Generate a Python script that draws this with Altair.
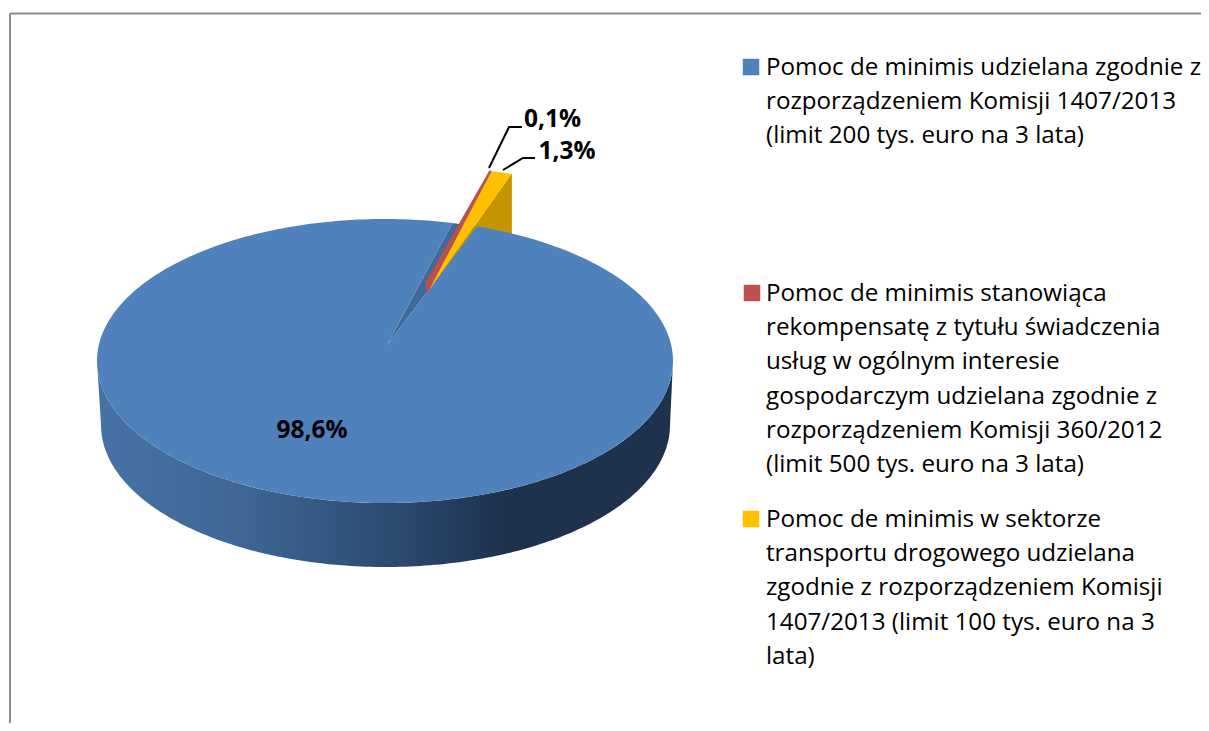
import numpy as np
import pandas as pd
import altair as alt

# ---- values ----
shares = [98.6, 0.1, 1.3]
share_labels = ["98,6%", "0,1%", "1,3%"]
colors = ["#4f81bd", "#c0504d", "#ffc000"]
legend_lines = [
    ["Pomoc de minimis udzielana zgodnie z",
     "rozporządzeniem Komisji 1407/2013",
     "(limit 200 tys. euro na 3 lata)"],
    ["Pomoc de minimis stanowiąca",
     "rekompensatę z tytułu świadczenia",
     "usług w ogólnym interesie",
     "gospodarczym udzielana zgodnie z",
     "rozporządzeniem Komisji 360/2012",
     "(limit 500 tys. euro na 3 lata)"],
    ["Pomoc de minimis w sektorze",
     "transportu drogowego udzielana",
     "zgodnie z rozporządzeniem Komisji",
     "1407/2013 (limit 100 tys. euro na 3",
     "lata)"],
]
legend_top = [68, 294, 520]
legend_step = 34.2
FONT = "Open Sans"

# ---- pie geometry (image pixels, used as scale domain) ----
CX, CY, RX, RY = 385, 361, 288, 142
BX, BY, BRX, BRY = 385.5, 425, 284.5, 142
APEX = (387, 345)
OFFSET_APEX = (40, -52)
OFFSET_RIM = (37, -52)
DEPTH = 60
START = 18.6

X = alt.X("x:Q", axis=None, scale=alt.Scale(domain=[8, 1201], nice=False, zero=False))
Y = alt.Y("y:Q", axis=None, scale=alt.Scale(domain=[723, 8], nice=False, zero=False))


def top_pt(deg):
    t = np.radians(deg)
    return CX + RX * np.sin(t), CY - RY * np.cos(t)


def bot_pt(deg):
    t = np.radians(deg)
    return BX + BRX * np.sin(t), BY - BRY * np.cos(t)


def poly(pts, fill, stroke=None, sw=0.0):
    df = pd.DataFrame(pts, columns=["x", "y"])
    df["i"] = range(len(df))
    kw = dict(interpolate="linear-closed", fill=fill, strokeWidth=sw)
    kw["stroke"] = stroke if stroke else "transparent"
    return alt.Chart(df).mark_line(**kw).encode(x=X, y=Y, order="i:Q")


def shift(p):
    return (p[0] + OFFSET_RIM[0], p[1] + OFFSET_RIM[1])


# slice angle bounds from the values
a_blue_end = START + shares[0] * 3.6
a_red_end = a_blue_end + shares[1] * 3.6
a_yel_end = a_red_end + shares[2] * 3.6

blue_arc = [top_pt(a) for a in np.linspace(START, a_blue_end, 361)]
blue_top = poly([APEX] + blue_arc, colors[0])

notch = poly([APEX, top_pt(a_blue_end), top_pt(START)], "#41689a")

side_angles = np.linspace(270, 90, 181)
side_pts = [top_pt(a) for a in side_angles] + [bot_pt(a) for a in side_angles[::-1]]
blue_side = poly(
    side_pts,
    alt.Gradient(
        gradient="linear", x1=0, x2=1, y1=0, y2=0,
        stops=[
            alt.GradientStop(color="#4672a6", offset=0),
            alt.GradientStop(color="#3e6795", offset=0.25),
            alt.GradientStop(color="#2b4a70", offset=0.52),
            alt.GradientStop(color="#1e324e", offset=0.70),
            alt.GradientStop(color="#1e324e", offset=1),
        ],
    ),
)

y_apex = (APEX[0] + OFFSET_APEX[0], APEX[1] + OFFSET_APEX[1])
y_rim = shift(top_pt(a_yel_end))
y_rim = (y_rim[0] - 2, y_rim[1] - 1)
yellow_side = poly(
    [y_apex, y_rim, (y_rim[0], y_rim[1] + DEPTH), (y_apex[0], y_apex[1] + DEPTH)],
    "#c49500",
)
y_arc = [shift(top_pt(a)) for a in np.linspace(a_red_end, a_yel_end, 12)]
y_arc[-1] = y_rim
yellow_top = poly([y_apex] + y_arc, colors[2])

r0, r1 = shift(top_pt(a_blue_end)), shift(top_pt(a_red_end))
red = poly(
    [y_apex, (y_apex[0] - 1, y_apex[1] - 11), r0, r1],
    "#b8504d", "#b8504d", 0.8,
)

# ---- leader lines ----
lead = pd.DataFrame({
    "x": [489, 509, 522, 503, 523, 535],
    "y": [168, 127, 127, 170, 158, 158],
    "g": ["a", "a", "a", "b", "b", "b"],
    "i": [0, 1, 2, 0, 1, 2],
})
leaders = alt.Chart(lead).mark_line(color="#000000", strokeWidth=2).encode(
    x=X, y=Y, detail="g:N", order="i:Q"
)

# ---- data labels ----
lab = pd.DataFrame({"x": [312, 552.5, 567], "y": [430.5, 119.5, 151.5], "t": share_labels})
labels = alt.Chart(lab).mark_text(
    font=FONT, fontSize=24.5, fontWeight="bold", color="#000000",
    align="center", baseline="middle",
).encode(x=X, y=Y, text="t:N")

# ---- legend ----
rows = []
for top, lines in zip(legend_top, legend_lines):
    for k, s in enumerate(lines):
        rows.append({"x": 766, "y": top + k * legend_step, "t": s})
leg_text = alt.Chart(pd.DataFrame(rows)).mark_text(
    font=FONT, fontSize=24.2, color="#000000", align="left", baseline="middle",
).encode(x=X, y=Y, text="t:N")
leg_sq = alt.Chart(pd.DataFrame({
    "x": [751, 752, 751], "y": [67, 293, 519], "c": colors,
})).mark_square(size=272, opacity=1, filled=True).encode(
    x=X, y=Y, color=alt.Color("c:N", scale=None)
)

# ---- outer frame ----
frame = alt.Chart(pd.DataFrame({
    "x": [10, 10], "x2": [1201, 10], "y": [13.5, 13.5], "y2": [13.5, 723],
})).mark_rule(color="#8c8c8c", strokeWidth=2).encode(
    x=X, x2="x2:Q", y=Y, y2="y2:Q"
)

chart = alt.layer(
    frame, notch, blue_side, yellow_side, blue_top, yellow_top, red,
    leaders, labels, leg_sq, leg_text,
).properties(
    width=1193, height=715, padding=0,
    autosize=alt.AutoSizeParams(type="none"),
).configure_view(stroke=None)

chart.save("out.html", embed_options={"renderer": "svg", "actions": False})
